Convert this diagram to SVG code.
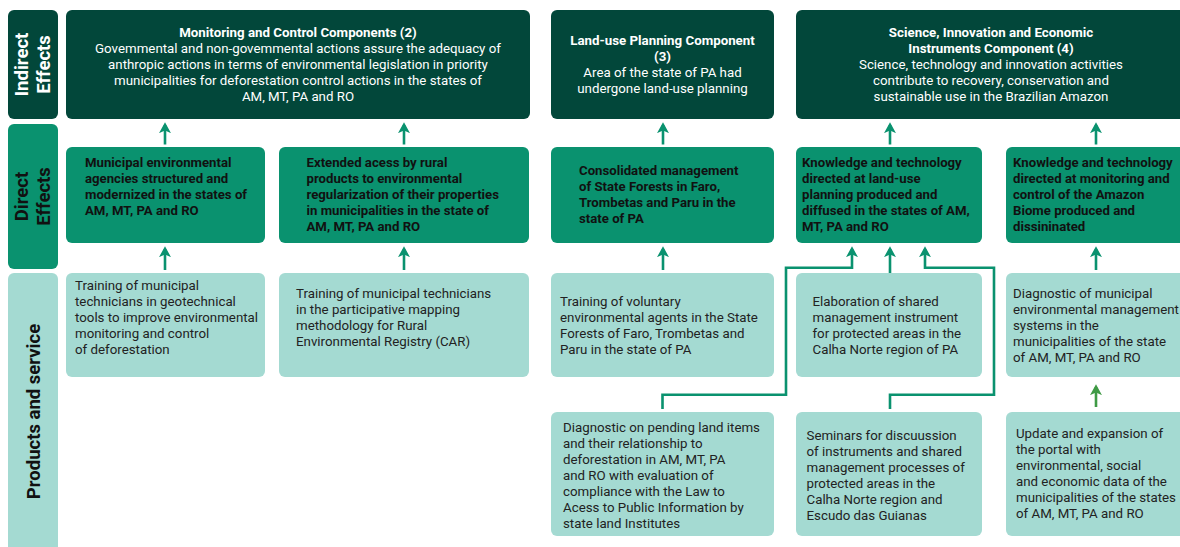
<svg xmlns="http://www.w3.org/2000/svg" width="1180" height="547" viewBox="0 0 1180 547">
<defs>
<style>
.ind{fill:#02473A}
.dir{fill:#0A926F}
.prd{fill:#A4DAD2}
.lbl{font-family:Roboto,"Liberation Sans",sans-serif;font-weight:bold;font-size:18.5px}
.tt{font-family:Roboto,"Liberation Sans",sans-serif;font-weight:bold;font-size:13.3px;fill:#fff;text-anchor:middle}
.tb{font-family:Roboto,"Liberation Sans",sans-serif;font-size:13.3px;fill:#fff;text-anchor:middle}
.dt{font-family:Roboto,"Liberation Sans",sans-serif;font-weight:bold;font-size:13.2px;fill:#111}
.pt{font-family:Roboto,"Liberation Sans",sans-serif;font-size:13.3px;fill:#222}
.con{fill:none;stroke:#0A926F;stroke-width:2.6}
.con2{fill:none;stroke:#3F9A45;stroke-width:2.6}
</style>
<marker id="ah" viewBox="0 0 10 11" refX="7.5" refY="5.5" markerWidth="11" markerHeight="12" markerUnits="userSpaceOnUse" orient="auto">
<path d="M0,0 L10,5.5 L0,11 L2.5,5.5 z" fill="#0A926F"/>
</marker>
<marker id="ah2" viewBox="0 0 10 11" refX="7.5" refY="5.5" markerWidth="11" markerHeight="12" markerUnits="userSpaceOnUse" orient="auto">
<path d="M0,0 L10,5.5 L0,11 L2.5,5.5 z" fill="#3F9A45"/>
</marker>
</defs>
<rect width="1180" height="547" fill="#fff"/>

<g id="row-labels">
<rect class="ind" x="8" y="10" width="50" height="109" rx="6"/>
<g transform="translate(33,64.5) rotate(-90)" class="lbl" fill="#fff" text-anchor="middle">
<text x="0" y="-5">Indirect</text>
<text x="0" y="17">Effects</text>
</g>
<rect class="dir" x="8" y="124" width="50" height="145" rx="6"/>
<g transform="translate(33,196.5) rotate(-90)" class="lbl" fill="#111" text-anchor="middle">
<text x="0" y="-5">Direct</text>
<text x="0" y="17">Effects</text>
</g>
<rect class="prd" x="8" y="273" width="50" height="290" rx="6"/>
<text transform="translate(40,411.5) rotate(-90)" class="lbl" fill="#111" text-anchor="middle">Products and service</text>
</g>

<g id="indirect-1">
<rect class="ind" x="66" y="10" width="464" height="109" rx="6"/>
<text class="tt" x="298" y="37">Monitoring and Control Components (2)</text>
<text class="tb" x="298" y="53">Govemmental and non-govemmental actions assure the adequacy of</text>
<text class="tb" x="298" y="69">anthropic actions in terms of environmental legislation in priority</text>
<text class="tb" x="298" y="85">municipalities for deforestation control actions in the states of</text>
<text class="tb" x="298" y="101">AM, MT, PA and RO</text>
</g>
<g id="indirect-2">
<rect class="ind" x="551" y="10" width="223" height="109" rx="6"/>
<text class="tt" x="662.5" y="44.5">Land-use Planning Component</text>
<text class="tt" x="662.5" y="60.5">(3)</text>
<text class="tb" x="662.5" y="76.5">Area of the state of PA had</text>
<text class="tb" x="662.5" y="92.5">undergone land-use planning</text>
</g>
<g id="indirect-3">
<rect class="ind" x="796" y="10" width="400" height="109" rx="6"/>
<text class="tt" x="991" y="37">Science, Innovation and Economic</text>
<text class="tt" x="991" y="53">Instruments Component (4)</text>
<text class="tb" x="991" y="69">Science, technology and innovation activities</text>
<text class="tb" x="991" y="85">contribute to recovery, conservation and</text>
<text class="tb" x="991" y="101">sustainable use in the Brazilian Amazon</text>
</g>

<g id="direct-1">
<rect class="dir" x="66" y="147" width="199" height="96" rx="6"/>
<text class="dt" x="85" y="167">Municipal environmental</text>
<text class="dt" x="85" y="183">agencies structured and</text>
<text class="dt" x="85" y="199">modernized in the states of</text>
<text class="dt" x="85" y="215">AM, MT, PA and RO</text>
</g>
<g id="direct-2">
<rect class="dir" x="279" y="147" width="250" height="96" rx="6"/>
<text class="dt" x="306.5" y="167">Extended acess by rural</text>
<text class="dt" x="306.5" y="183">products to environmental</text>
<text class="dt" x="306.5" y="199">regularization of their properties</text>
<text class="dt" x="306.5" y="215">in municipalities in the state of</text>
<text class="dt" x="306.5" y="231">AM, MT, PA and RO</text>
</g>
<g id="direct-3">
<rect class="dir" x="551" y="147" width="223" height="96" rx="6"/>
<text class="dt" x="579" y="175">Consolidated management</text>
<text class="dt" x="579" y="191">of State Forests in Faro,</text>
<text class="dt" x="579" y="207">Trombetas and Paru in the</text>
<text class="dt" x="579" y="223">state of PA</text>
</g>
<g id="direct-4">
<rect class="dir" x="796" y="147" width="186" height="96" rx="6"/>
<text class="dt" x="802" y="167">Knowledge and technology</text>
<text class="dt" x="802" y="183">directed at land-use</text>
<text class="dt" x="802" y="199">planning produced and</text>
<text class="dt" x="802" y="215">diffused in the states of AM,</text>
<text class="dt" x="802" y="231">MT, PA and RO</text>
</g>
<g id="direct-5">
<rect class="dir" x="1006" y="147" width="190" height="96" rx="6"/>
<text class="dt" x="1013" y="167">Knowledge and technology</text>
<text class="dt" x="1013" y="183">directed at monitoring and</text>
<text class="dt" x="1013" y="199">control of the Amazon</text>
<text class="dt" x="1013" y="215">Biome produced and</text>
<text class="dt" x="1013" y="231">dissininated</text>
</g>

<g id="product-1">
<rect class="prd" x="66" y="273" width="199" height="104" rx="6"/>
<text class="pt" x="75" y="290">Training of municipal</text>
<text class="pt" x="75" y="306">technicians in geotechnical</text>
<text class="pt" x="75" y="322">tools to improve environmental</text>
<text class="pt" x="75" y="338">monitoring and control</text>
<text class="pt" x="75" y="354">of deforestation</text>
</g>
<g id="product-2">
<rect class="prd" x="279" y="273" width="250" height="104" rx="6"/>
<text class="pt" x="296" y="298">Training of municipal technicians</text>
<text class="pt" x="296" y="314">in the participative mapping</text>
<text class="pt" x="296" y="330">methodology for Rural</text>
<text class="pt" x="296" y="346">Environmental Registry (CAR)</text>
</g>
<g id="product-3">
<rect class="prd" x="551" y="273" width="223" height="104" rx="6"/>
<text class="pt" x="560" y="306">Training of voluntary</text>
<text class="pt" x="560" y="322">environmental agents in the State</text>
<text class="pt" x="560" y="338">Forests of Faro, Trombetas and</text>
<text class="pt" x="560" y="354">Paru in the state of PA</text>
</g>
<g id="product-4">
<rect class="prd" x="796" y="273" width="186" height="104" rx="6"/>
<text class="pt" x="812.5" y="306">Elaboration of shared</text>
<text class="pt" x="812.5" y="322">management instrument</text>
<text class="pt" x="812.5" y="338">for protected areas in the</text>
<text class="pt" x="812.5" y="354">Calha Norte region of PA</text>
</g>
<g id="product-5">
<rect class="prd" x="1006" y="273" width="190" height="104" rx="6"/>
<text class="pt" x="1013" y="298">Diagnostic of municipal</text>
<text class="pt" x="1013" y="314">environmental management</text>
<text class="pt" x="1013" y="330">systems in the</text>
<text class="pt" x="1013" y="346">municipalities of the state</text>
<text class="pt" x="1013" y="362">of AM, MT, PA and RO</text>
</g>
<g id="product-6">
<rect class="prd" x="551" y="412" width="223" height="124" rx="6"/>
<text class="pt" x="563" y="432">Diagnostic on pending land items</text>
<text class="pt" x="563" y="448">and their relationship to</text>
<text class="pt" x="563" y="464">deforestation in AM, MT, PA</text>
<text class="pt" x="563" y="480">and RO with evaluation of</text>
<text class="pt" x="563" y="496">compliance with the Law to</text>
<text class="pt" x="563" y="512">Acess to Public Information by</text>
<text class="pt" x="563" y="528">state land Institutes</text>
</g>
<g id="product-7">
<rect class="prd" x="796" y="412" width="186" height="124" rx="6"/>
<text class="pt" x="806.5" y="439.5">Seminars for discuussion</text>
<text class="pt" x="806.5" y="455.5">of instruments and shared</text>
<text class="pt" x="806.5" y="471.5">management processes of</text>
<text class="pt" x="806.5" y="487.5">protected areas in the</text>
<text class="pt" x="806.5" y="503.5">Calha Norte region and</text>
<text class="pt" x="806.5" y="519.5">Escudo das Guianas</text>
</g>
<g id="product-8">
<rect class="prd" x="1006" y="412" width="190" height="124" rx="6"/>
<text class="pt" x="1016" y="438">Update and expansion of</text>
<text class="pt" x="1016" y="454">the portal with</text>
<text class="pt" x="1016" y="470">environmental, social</text>
<text class="pt" x="1016" y="486">and economic data of the</text>
<text class="pt" x="1016" y="502">municipalities of the states</text>
<text class="pt" x="1016" y="518">of AM, MT, PA and RO</text>
</g>

<g id="connectors">
<line class="con" x1="165" y1="144.5" x2="165" y2="125" marker-end="url(#ah)"/>
<line class="con" x1="404" y1="144.5" x2="404" y2="125" marker-end="url(#ah)"/>
<line class="con" x1="663" y1="144.5" x2="663" y2="125" marker-end="url(#ah)"/>
<line class="con" x1="890" y1="144.5" x2="890" y2="125" marker-end="url(#ah)"/>
<line class="con" x1="1096" y1="144.5" x2="1096" y2="125" marker-end="url(#ah)"/>
<line class="con" x1="165" y1="270" x2="165" y2="249" marker-end="url(#ah)"/>
<line class="con" x1="404" y1="270" x2="404" y2="249" marker-end="url(#ah)"/>
<line class="con" x1="663" y1="270" x2="663" y2="249" marker-end="url(#ah)"/>
<line class="con" x1="890" y1="273" x2="890" y2="249" marker-end="url(#ah)"/>
<line class="con" x1="1096" y1="270" x2="1096" y2="249" marker-end="url(#ah)"/>
<polyline class="con" points="662.5,409 662.5,394.7 786,394.7 786,267.7 852,267.7 852,249" marker-end="url(#ah)"/>
<polyline class="con" points="890,409 890,394.7 994,394.7 994,267.7 925,267.7 925,249" marker-end="url(#ah)"/>
<line class="con2" x1="1096" y1="407" x2="1096" y2="387" marker-end="url(#ah2)"/>
</g>
</svg>
